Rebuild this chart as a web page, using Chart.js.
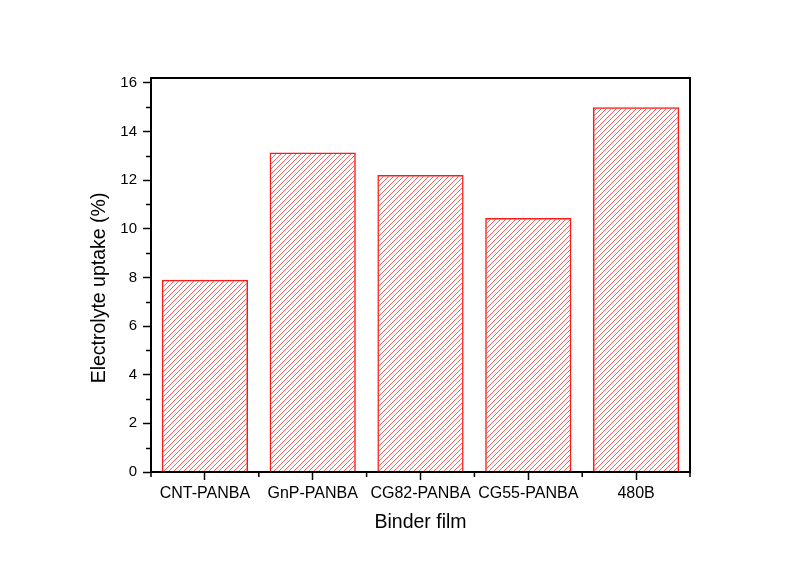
<!DOCTYPE html>
<html>
<head>
<meta charset="utf-8">
<script src="https://cdn.jsdelivr.net/npm/chart.js@4/dist/chart.umd.min.js"></script>
<style>
html,body{margin:0;padding:0;background:#fff;}
#wrap{width:795px;height:563px;}
</style>
</head>
<body>
<div id="wrap"><canvas id="c" width="795" height="563"></canvas></div>
<script>
const categories = ['CNT-PANBA', 'GnP-PANBA', 'CG82-PANBA', 'CG55-PANBA', '480B'];
const uptake = [7.9, 13.14, 12.21, 10.44, 15.0];
const yTicks = [0, 2, 4, 6, 8, 10, 12, 14, 16];
const yMinorTicks = [1, 3, 5, 7, 9, 11, 13, 15];
const yTitle = 'Electrolyte uptake (%)';
const xTitle = 'Binder film';

const FONT = '"Liberation Sans", Arial, sans-serif';

function makeHatch() {
  const s = 5;
  const c = document.createElement('canvas');
  c.width = s; c.height = s;
  const g = c.getContext('2d');
  g.strokeStyle = 'rgba(255,0,0,0.62)';
  g.lineWidth = 1;
  g.beginPath();
  for (let k = -1; k <= 1; k++) {
    g.moveTo(k * s - 1, s + 1);
    g.lineTo(k * s + s + 1, -1);
  }
  g.stroke();
  const ctx = document.getElementById('c').getContext('2d');
  return ctx.createPattern(c, 'repeat');
}

const framePlugin = {
  id: 'frame',
  afterDraw(chart) {
    const ctx = chart.ctx;
    const a = chart.chartArea;
    const x = chart.scales.x;
    const y = chart.scales.y;
    const step = x.getPixelForValue(1) - x.getPixelForValue(0);
    ctx.save();
    ctx.strokeStyle = '#000';
    ctx.lineWidth = 1.5;
    ctx.beginPath();
    yMinorTicks.forEach(v => {
      const py = Math.round(y.getPixelForValue(v)) + 0.5;
      ctx.moveTo(a.left - 5, py);
      ctx.lineTo(a.left, py);
    });
    for (let i = 0; i <= categories.length; i++) {
      const px = (i < categories.length) ? x.getPixelForValue(i) - step / 2 : x.getPixelForValue(i - 1) + step / 2;
      ctx.moveTo(px, a.bottom);
      ctx.lineTo(px, a.bottom + 5);
    }
    ctx.stroke();
    ctx.lineWidth = 2;
    ctx.strokeRect(a.left, a.top, a.right - a.left, a.bottom - a.top);
    ctx.fillStyle = '#000';
    ctx.font = '19.5px ' + FONT;
    ctx.textAlign = 'center';
    ctx.textBaseline = 'middle';
    ctx.translate(100, 288);
    ctx.rotate(-Math.PI / 2);
    ctx.fillText(yTitle, 0, 0);
    ctx.restore();
  }
};

new Chart(document.getElementById('c'), {
  type: 'bar',
  data: {
    labels: categories,
    datasets: [{
      data: uptake,
      backgroundColor: makeHatch(),
      borderColor: '#ff1a1a',
      borderWidth: 1.5,
      barPercentage: 0.8,
      categoryPercentage: 1.0
    }]
  },
  options: {
    responsive: false,
    animation: false,
    devicePixelRatio: 1,
    layout: { padding: { left: 0, right: 105, top: 78, bottom: 0 } },
    plugins: { legend: { display: false }, tooltip: { enabled: false } },
    scales: {
      x: {
        offset: true,
        grid: { offset: false, drawOnChartArea: false, drawTicks: true, tickLength: 8, color: '#000', tickColor: '#000', tickWidth: 1.5 },
        border: { display: true, color: '#000', width: 2 },
        ticks: { color: '#000', font: { family: FONT, size: 16 }, padding: 4, maxRotation: 0, autoSkip: false },
        title: { display: true, text: xTitle, color: '#000', font: { family: FONT, size: 19.5 }, padding: { top: 0, bottom: 29 } },
        afterFit(scale) { scale.height = 91; }
      },
      y: {
        min: 0,
        max: 16.2,
        grid: { drawOnChartArea: false, drawTicks: true, tickLength: 8, color: '#000', tickColor: '#000', tickWidth: 1.5 },
        border: { display: true, color: '#000', width: 2 },
        ticks: { color: '#000', font: { family: FONT, size: 15 }, padding: 6 },
        afterBuildTicks(scale) { scale.ticks = yTicks.map(v => ({ value: v })); },
        afterFit(scale) { scale.width = 151; }
      }
    }
  },
  plugins: [framePlugin]
});
</script>
</body>
</html>
